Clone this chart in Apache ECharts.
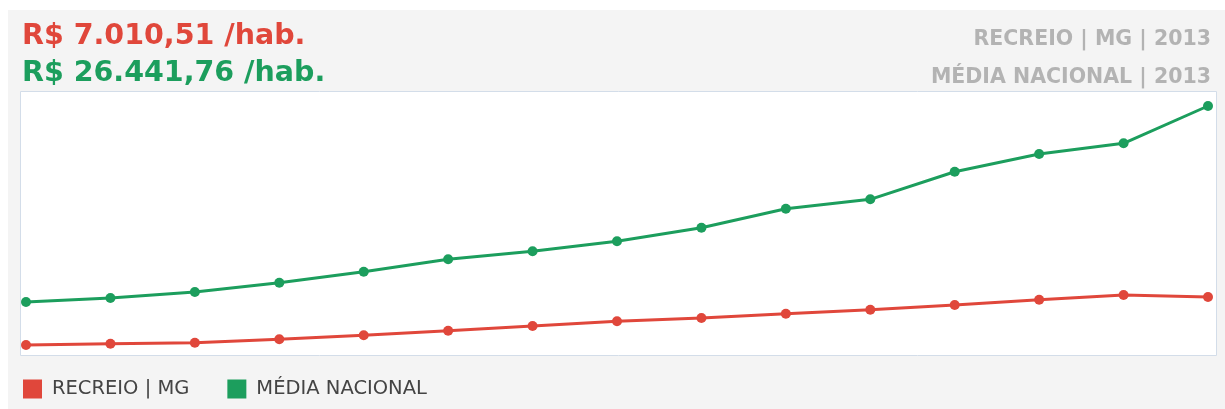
<!DOCTYPE html>
<html><head><meta charset="utf-8">
<script src="https://cdn.jsdelivr.net/npm/echarts@6/dist/echarts.min.js"></script>
<style>html,body{margin:0;padding:0;background:#fff}#c{width:1225px;height:409px}</style>
</head><body><div id="c"></div>
<script>
var categories = ['1999','2000','2001','2002','2003','2004','2005','2006','2007','2008','2009','2010','2011','2012','2013'];
var recreioValues = [2126, 2258, 2360, 2706, 3113, 3581, 4059, 4537, 4873, 5310, 5717, 6195, 6735, 7213, 7010.51];
var nacionalValues = [6500, 6907, 7518, 8464, 9583, 10845, 11658, 12676, 14059, 15992, 16949, 19757, 21556, 22645, 26441.76];
var seriesNames = ['RECREIO | MG', 'MÉDIA NACIONAL'];
var headlineTexts = ['R$ 7.010,51 /hab.', 'R$ 26.441,76 /hab.'];
var sideTexts = ['RECREIO | MG | 2013', 'MÉDIA NACIONAL | 2013'];

var RED = '#e0473b', GREEN = '#1c9e5d';
var chart = echarts.init(document.getElementById('c'));
var font = 'DejaVu Sans';
chart.setOption({
  animation: false,
  backgroundColor: '#ffffff',
  graphic: [
    {type:'rect', z:-10, shape:{x:8,y:10,width:1217,height:399}, style:{fill:'#f4f4f4'}},
    {type:'rect', z:-9, shape:{x:20.5,y:91.5,width:1196,height:264}, style:{fill:'#ffffff', stroke:'#d3dde9', lineWidth:1}}
  ],
  title: [
    {text: headlineTexts[0], left: 17, top: 17, textStyle:{color:RED, fontFamily:font, fontWeight:'bold', fontSize:28.5}},
    {text: headlineTexts[1], left: 17, top: 54, textStyle:{color:GREEN, fontFamily:font, fontWeight:'bold', fontSize:28.5}},
    {text: sideTexts[0], right: 9, top: 24, textStyle:{color:'#b3b3b3', fontFamily:font, fontWeight:'bold', fontSize:20.5}},
    {text: sideTexts[1], right: 9, top: 62, textStyle:{color:'#b3b3b3', fontFamily:font, fontWeight:'bold', fontSize:20.5}}
  ],
  legend: {
    left: 18, top: 374, icon: 'rect', itemWidth: 19, itemHeight: 19, itemGap: 38,
    data: seriesNames,
    textStyle: {color:'#444', fontFamily:font, fontSize:19.5, padding:[0,0,0,5]}
  },
  grid: {left: 26, right: 17, top: 92, bottom: 54, containLabel: false},
  xAxis: {type:'category', data: categories, boundaryGap:false, show:false},
  yAxis: {type:'value', min:1110, max:27866, show:false, splitLine:{show:false}},
  series: [
    {name: seriesNames[0], type:'line', data: recreioValues, symbol:'circle', symbolSize:10,
     itemStyle:{color:RED}, lineStyle:{width:3, color:RED}},
    {name: seriesNames[1], type:'line', data: nacionalValues, symbol:'circle', symbolSize:10,
     itemStyle:{color:GREEN}, lineStyle:{width:3, color:GREEN}}
  ]
});
</script></body></html>
